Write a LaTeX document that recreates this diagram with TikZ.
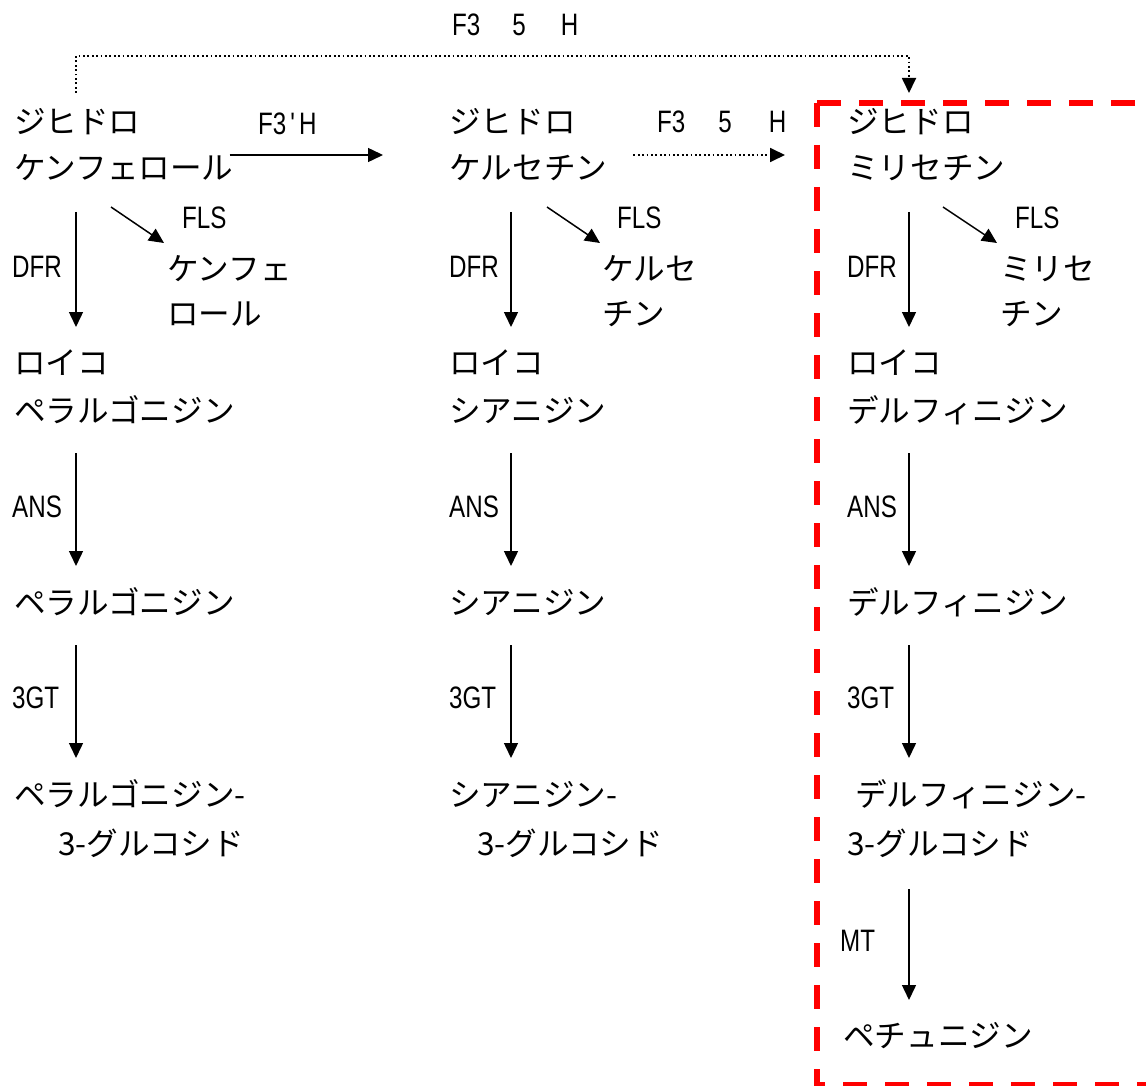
\documentclass[tikz,border=0pt]{standalone}
\usepackage{fontspec}
\newfontfamily\jp{Noto Sans CJK JP}
\newfontfamily\lab[FakeStretch=0.78]{Liberation Sans}
\usetikzlibrary{arrows.meta}
\tikzset{
  jpt/.style={font=\jp\fontsize{31.6}{31.6}\selectfont, inner sep=0pt, anchor=base west},
  lbl/.style={font=\lab\fontsize{31}{31}\selectfont, inner sep=0pt, anchor=base west},
  arr/.style={line width=1.5pt, -{Triangle[length=15pt,width=14pt]}},
  dotarr/.style={line width=1.8pt, dash pattern=on 1.8pt off 2.6pt, -{Triangle[length=15pt,width=14pt]}},
  redbox/.style={draw=red, line width=5.5pt, dash pattern=on 24pt off 18pt}
}
\begin{document}
\begin{tikzpicture}[x=1pt,y=-1pt]
\useasboundingbox (0,0) rectangle (1146,1086);
\clip (0,0) rectangle (1146,1086);
% column reference coordinates
\coordinate (x1) at (76,0);
\coordinate (x2) at (511,0);
\coordinate (x3) at (909,0);
% red dashed frame
\draw[redbox] (817,103) rectangle (1170,1085);
% column 1
\node[jpt] (A1) at (14,134) {ジヒドロ};
\node[jpt] (A2) at (14,180) {ケンフェロール};
\node[jpt] (AF1) at (167,280) {ケンフェ};
\node[jpt] (AF2) at (167,325) {ロール};
\node[jpt] (AL1) at (14,374) {ロイコ};
\node[jpt] (AL2) at (14,422) {ペラルゴニジン};
\node[jpt] (AD) at (14,614) {ペラルゴニジン};
\node[jpt] (AG1) at (14,806) {ペラルゴニジン-};
\node[jpt] (AG2) at (58,855) {3-グルコシド};
% column 2
\node[jpt] (B1) at (449,134) {ジヒドロ};
\node[jpt] (B2) at (449,180) {ケルセチン};
\node[jpt] (BF1) at (602,280) {ケルセ};
\node[jpt] (BF2) at (602,325) {チン};
\node[jpt] (BL1) at (449,374) {ロイコ};
\node[jpt] (BL2) at (449,422) {シアニジン};
\node[jpt] (BD) at (449,614) {シアニジン};
\node[jpt] (BG1) at (449,806) {シアニジン-};
\node[jpt] (BG2) at (477,855) {3-グルコシド};
% column 3
\node[jpt] (C1) at (847,134) {ジヒドロ};
\node[jpt] (C2) at (847,180) {ミリセチン};
\node[jpt] (CF1) at (1000,280) {ミリセ};
\node[jpt] (CF2) at (1000,325) {チン};
\node[jpt] (CL1) at (847,374) {ロイコ};
\node[jpt] (CL2) at (847,422) {デルフィニジン};
\node[jpt] (CD) at (847,614) {デルフィニジン};
\node[jpt] (CG1) at (855,806) {デルフィニジン-};
\node[jpt] (CG2) at (847,855) {3-グルコシド};
\node[jpt] (CP) at (843,1047) {ペチュニジン};
% labels
\node[lbl] (t0) at (452,36) {F3\hspace{32pt}5\hspace{35pt}H};
\node[lbl] (t1) at (258,135) {F3\hspace{4pt}'\hspace{4pt}H};
\node[lbl] (t2) at (657,133) {F3\hspace{33pt}5\hspace{37pt}H};
\node[lbl] (fa) at (182,229) {FLS};
\node[lbl] (fb) at (617,229) {FLS};
\node[lbl] (fc) at (1015,229) {FLS};
\node[lbl] (da) at (12,277) {DFR};
\node[lbl] (db) at (449,277) {DFR};
\node[lbl] (dc) at (847,277) {DFR};
\node[lbl] (na) at (12,517) {ANS};
\node[lbl] (nb) at (449,517) {ANS};
\node[lbl] (nc) at (847,517) {ANS};
\node[lbl] (ga) at (12,708) {3GT};
\node[lbl] (gb) at (449,708) {3GT};
\node[lbl] (gc) at (847,708) {3GT};
\node[lbl] (mt) at (840,951) {MT};
% top dotted connector
\draw[dotarr] ([yshift=41pt]A1.base -| x1) -- ++(0,-37) -| ([yshift=41pt]C1.base -| x3);
% horizontal connectors
\draw[arr] ([xshift=-4pt,yshift=25pt]A2.base east) -- ([xshift=-66pt,yshift=25pt]B2.base west);
\draw[dotarr] ([xshift=26pt,yshift=25pt]B2.base east) -- ([xshift=-62pt,yshift=25pt]C2.base west);
% FLS diagonals
\draw[arr] ([xshift=97pt,yshift=-27pt]A2.base west) -- ([xshift=-3pt,yshift=37pt]AF1.base west);
\draw[arr] ([xshift=98pt,yshift=-27pt]B2.base west) -- ([xshift=-2pt,yshift=37pt]BF1.base west);
\draw[arr] ([xshift=96pt,yshift=-27pt]C2.base west) -- ([xshift=-3pt,yshift=37pt]CF1.base west);
% vertical connectors column 1
\draw[arr] ([yshift=-32pt]A2.base -| x1) -- ([yshift=47pt]AL1.base -| x1);
\draw[arr] ([yshift=-31pt]AL2.base -| x1) -- ([yshift=48pt]AD.base -| x1);
\draw[arr] ([yshift=-31pt]AD.base -| x1) -- ([yshift=48pt]AG1.base -| x1);
% column 2
\draw[arr] ([yshift=-32pt]B2.base -| x2) -- ([yshift=47pt]BL1.base -| x2);
\draw[arr] ([yshift=-31pt]BL2.base -| x2) -- ([yshift=48pt]BD.base -| x2);
\draw[arr] ([yshift=-31pt]BD.base -| x2) -- ([yshift=48pt]BG1.base -| x2);
% column 3
\draw[arr] ([yshift=-32pt]C2.base -| x3) -- ([yshift=47pt]CL1.base -| x3);
\draw[arr] ([yshift=-31pt]CL2.base -| x3) -- ([yshift=48pt]CD.base -| x3);
\draw[arr] ([yshift=-31pt]CD.base -| x3) -- ([yshift=48pt]CG1.base -| x3);
\draw[arr] ([yshift=-34pt]CG2.base -| x3) -- ([yshift=47pt]CP.base -| x3);
\end{tikzpicture}
\end{document}
